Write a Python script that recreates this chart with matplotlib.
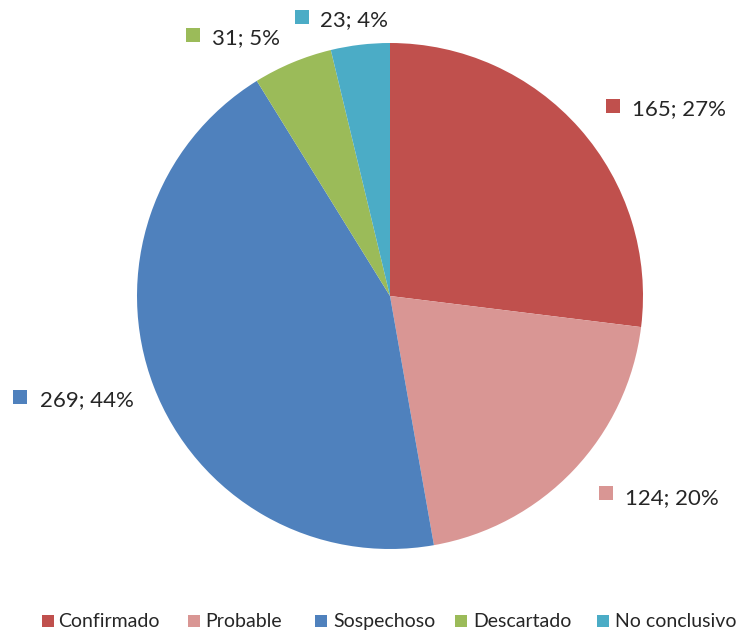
import matplotlib
matplotlib.use("Agg")
import matplotlib.pyplot as plt

categories = ["Confirmado", "Probable", "Sospechoso", "Descartado", "No conclusivo"]
values = [165, 124, 269, 31, 23]
colors = ["#C0504D", "#D99694", "#4F81BD", "#9BBB59", "#4BACC6"]

plt.rcParams['font.family'] = ['Lato', 'DejaVu Sans']
TXT = "#262626"

W, H = 740, 633
fig = plt.figure(figsize=(W / 100, H / 100), dpi=100)
# pie axes: center (390,296), radius 253 px
cx, cy, r = 390, 296, 253
ax = fig.add_axes([(cx - r) / W, (H - cy - r) / H, 2 * r / W, 2 * r / H])
wedges, _ = ax.pie(values, colors=colors, startangle=90, counterclock=False,
                   radius=1, wedgeprops=dict(linewidth=0))
ax.set_xlim(-1, 1)
ax.set_ylim(-1, 1)
ax.set_aspect('auto')
ax.axis('off')

total = sum(values)


def px(x, y):
    return x / W, 1 - y / H


def square(x, y, c, size):
    fx, fy = px(x, y)
    fig.lines.append(plt.Line2D([fx], [fy], marker='s', markersize=size, color=c,
                                markeredgewidth=0, linestyle='none',
                                transform=fig.transFigure))


# (marker x, marker y, text x, text center y) in pixels
label_pos = [(613, 106, 632, 107), (606, 493, 625, 496), (20, 397, 40, 398),
             (193, 35, 212, 36), (302, 17, 320, 18)]
for (mx, my, tx, ty), v, c in zip(label_pos, values, colors):
    pct = round(100 * v / total)
    square(mx, my, c, 10)
    fx, fy = px(tx, ty + 8)
    fig.text(fx, fy, f"{v}; {pct}%", fontsize=16, color=TXT,
             va='baseline', ha='left')

# legend
leg_pos = [(48, 58), (194, 205), (321, 333), (461, 473), (603, 615)]
ly = 621
for (mx, tx), cat, c in zip(leg_pos, categories, colors):
    square(mx, ly, c, 9)
    fx, fy = px(tx, ly + 6)
    fig.text(fx, fy, cat, fontsize=14, color=TXT, va='baseline', ha='left')

fig.savefig("out.png", dpi=100)
